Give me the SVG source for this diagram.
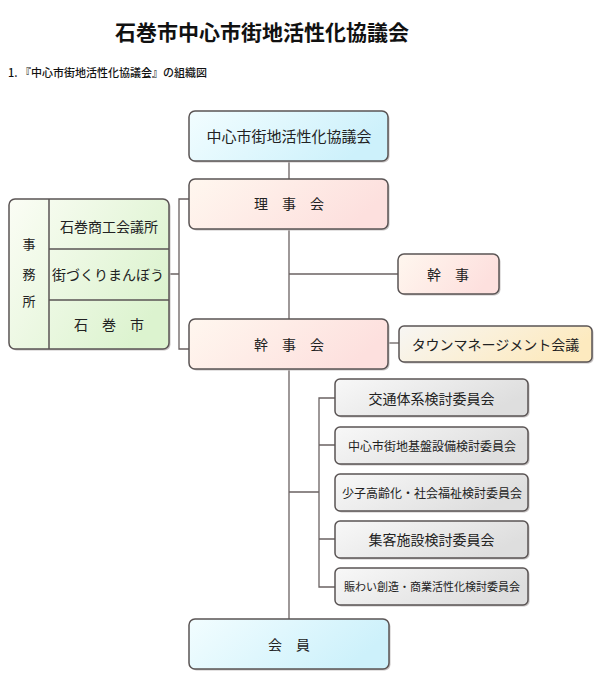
<svg xmlns="http://www.w3.org/2000/svg" width="600" height="700" viewBox="0 0 600 700">
<style>
text{font-family:"Noto Sans CJK JP","Noto Sans CJK SC",sans-serif;fill:#222;text-anchor:middle;dominant-baseline:central}
.box{stroke:#5a5454;stroke-width:1.5}
.sh{fill:#c8c4c4}
.ln{stroke:#6a6262;stroke-width:1.3;fill:none}
.t14{font-size:14px}
.t12{font-size:12px}
.t11{font-size:11px}
</style>
<defs>
<linearGradient id="gC" x1="0" y1="0" x2="1" y2="0.3"><stop offset="0" stop-color="#f2fdff"/><stop offset="1" stop-color="#cdf1fb"/></linearGradient>
<linearGradient id="gP" x1="0" y1="0" x2="1" y2="0.3"><stop offset="0" stop-color="#fff7ef"/><stop offset="1" stop-color="#fde0de"/></linearGradient>
<linearGradient id="gG" x1="0" y1="0" x2="1" y2="0.6"><stop offset="0" stop-color="#fbfdf5"/><stop offset="1" stop-color="#dcf3cf"/></linearGradient>
<linearGradient id="gY" x1="0" y1="0" x2="1" y2="0.3"><stop offset="0" stop-color="#f7f6f4"/><stop offset="1" stop-color="#fdeabf"/></linearGradient>
<linearGradient id="gW" x1="0" y1="0" x2="1" y2="0.4"><stop offset="0" stop-color="#f8f8f8"/><stop offset="1" stop-color="#dedede"/></linearGradient>
</defs>
<text x="262" y="31" style="font-size:21px;font-weight:bold;fill:#111">石巻市中心市街地活性化協議会</text>
<text x="8" y="72" class="t11" style="text-anchor:start;fill:#111;font-weight:500">1. 『中心市街地活性化協議会』の組織図</text>

<g id="connectors">
<path class="ln" d="M289 161V619"/>
<path class="ln" d="M189 199H179V349H189M169 274H179"/>
<path class="ln" d="M289 274H398"/>
<path class="ln" d="M388 343H399"/>
<path class="ln" d="M289 492H319M335 398H319V587H335M319 445H335M319 539H335"/>
</g>

<g id="kyogikai">
<rect x="190.5" y="112.5" width="199" height="50" rx="6" class="sh"/>
<rect x="189" y="111" width="199" height="50" rx="6" class="box" fill="url(#gC)"/>
<text x="289" y="135" style="font-size:15px">中心市街地活性化協議会</text>
</g>
<g id="rijikai">
<rect x="190.5" y="180.5" width="199" height="50" rx="6" class="sh"/>
<rect x="189" y="179" width="199" height="50" rx="6" class="box" fill="url(#gP)"/>
<text x="289" y="203" class="t14">理　事　会</text>
</g>
<g id="jimusho">
<rect x="10.5" y="200.5" width="160" height="150" rx="6" class="sh"/>
<rect x="9" y="199" width="160" height="150" rx="6" class="box" fill="url(#gG)"/>
<path class="box" d="M49 199V349M49 249H169M49 300H169" fill="none"/>
<text x="29" y="243" style="font-size:13px">事</text>
<text x="29" y="273" style="font-size:13px">務</text>
<text x="29" y="300" style="font-size:13px">所</text>
<text x="109" y="226" class="t14">石巻商工会議所</text>
<text x="108" y="274" class="t14">街づくりまんぼう</text>
<text x="109" y="324" class="t14">石　巻　市</text>
</g>
<g id="kanji">
<rect x="399.5" y="255.5" width="101" height="40" rx="6" class="sh"/>
<rect x="398" y="254" width="101" height="40" rx="6" class="box" fill="url(#gP)"/>
<text x="448" y="274" class="t14">幹　事</text>
</g>
<g id="kanjikai">
<rect x="190.5" y="320.5" width="199" height="50" rx="6" class="sh"/>
<rect x="189" y="319" width="199" height="50" rx="6" class="box" fill="url(#gP)"/>
<text x="289" y="344" class="t14">幹　事　会</text>
</g>
<g id="town">
<rect x="400.5" y="327.5" width="193" height="36" rx="5" class="sh"/>
<rect x="399" y="326" width="193" height="36" rx="5" class="box" fill="url(#gY)"/>
<text x="495.5" y="344" class="t14">タウンマネージメント会議</text>
</g>
<g id="c1">
<rect x="336.5" y="380.5" width="193" height="37" rx="5" class="sh"/>
<rect x="335" y="379" width="193" height="37" rx="5" class="box" fill="url(#gW)"/>
<text x="431.5" y="398" class="t14">交通体系検討委員会</text>
</g>
<g id="c2">
<rect x="336.5" y="428.5" width="193" height="37" rx="5" class="sh"/>
<rect x="335" y="427" width="193" height="37" rx="5" class="box" fill="url(#gW)"/>
<text x="432" y="445" class="t12">中心市街地基盤設備検討委員会</text>
</g>
<g id="c3">
<rect x="336.5" y="475.5" width="193" height="37" rx="5" class="sh"/>
<rect x="335" y="474" width="193" height="37" rx="5" class="box" fill="url(#gW)"/>
<text x="432" y="492" class="t12">少子高齢化・社会福祉検討委員会</text>
</g>
<g id="c4">
<rect x="336.5" y="522.5" width="193" height="37" rx="5" class="sh"/>
<rect x="335" y="521" width="193" height="37" rx="5" class="box" fill="url(#gW)"/>
<text x="431.5" y="539" class="t14">集客施設検討委員会</text>
</g>
<g id="c5">
<rect x="336.5" y="569.5" width="193" height="37" rx="5" class="sh"/>
<rect x="335" y="568" width="193" height="37" rx="5" class="box" fill="url(#gW)"/>
<text x="432" y="586" class="t11">賑わい創造・商業活性化検討委員会</text>
</g>
<g id="kaiin">
<rect x="190.5" y="620.5" width="200" height="50" rx="6" class="sh"/>
<rect x="189" y="619" width="200" height="50" rx="6" class="box" fill="url(#gC)"/>
<text x="289" y="644" class="t14">会　員</text>
</g>
</svg>
